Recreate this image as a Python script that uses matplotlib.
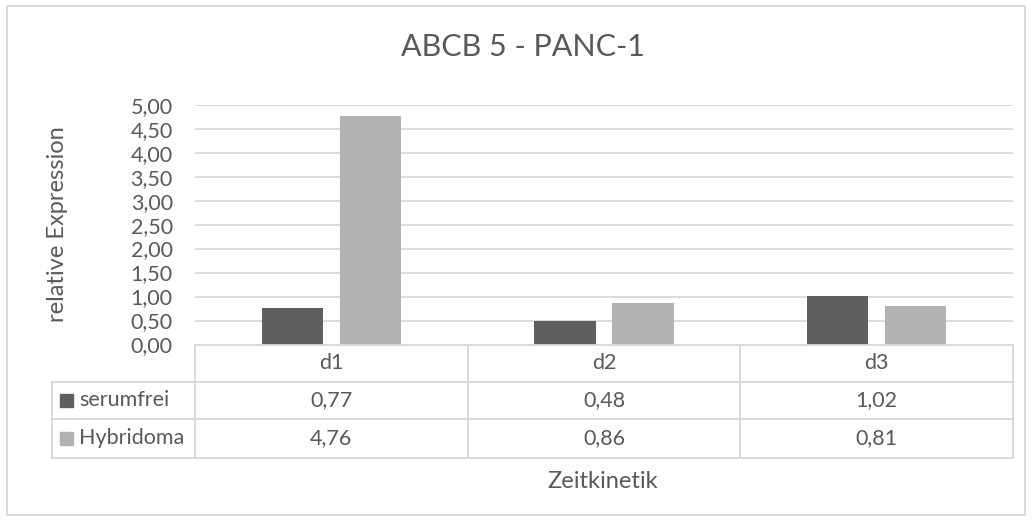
import matplotlib.pyplot as plt
from matplotlib.patches import Rectangle
from matplotlib.lines import Line2D
import numpy as np

categories = ["d1", "d2", "d3"]
series_names = ["serumfrei", "Hybridoma"]
serumfrei = [0.77, 0.48, 1.02]
hybridoma = [4.76, 0.86, 0.81]
yticks = [0, 0.5, 1, 1.5, 2, 2.5, 3, 3.5, 4, 4.5, 5]
colors = ["#5f5f5f", "#b2b2b2"]

W, H = 1032, 521
txt = "#595959"
grid = "#d9d9d9"
fs = 15.5
plt.rcParams["font.family"] = ["Lato", "DejaVu Sans"]

fig = plt.figure(figsize=(W / 100, H / 100), dpi=100)

def fx(x):
    return x / W

def fy(y):
    return 1 - y / H

# plot area in pixels
x0, x1 = 195, 1013
ytop, ybot = 104.7, 344.5
ax = fig.add_axes([fx(x0), fy(ybot), fx(x1) - fx(x0), fy(ytop) - fy(ybot)])

x = np.arange(len(categories))
w = 0.224
off = 0.143
ax.bar(x - off, serumfrei, w, color=colors[0], zorder=3)
ax.bar(x + off, hybridoma, w, color=colors[1], zorder=3)
ax.set_xlim(-0.5, len(categories) - 0.5)
ax.set_ylim(0, 5)
ax.set_yticks(yticks)
ax.set_yticklabels([f"{v:.2f}".replace(".", ",") for v in yticks], color=txt, fontsize=fs)
ax.set_xticks([])
ax.tick_params(axis="y", length=0, pad=16)
ax.grid(axis="y", color=grid, linewidth=1.3, zorder=0)
for s in ax.spines.values():
    s.set_visible(False)

# outer chart border
fig.patches.append(Rectangle((fx(7), fy(515)), fx(1025) - fx(7), fy(6) - fy(515),
                             transform=fig.transFigure, fill=False, edgecolor=grid, linewidth=1.3))

# title and axis labels
fig.text(fx(523), fy(47), "ABCB 5 - PANC-1", ha="center", va="center", fontsize=22, color=txt)
fig.text(fx(57), fy(224), "relative Expression", ha="center", va="center", rotation=90, fontsize=17, color=txt)
fig.text(fx(603), fy(481), "Zeitkinetik", ha="center", va="center", fontsize=17, color=txt)

# data table
rows = [ybot, 381.5, 419.3, 457.5]
colw = (x1 - x0) / len(categories)
cols = [x0 + i * colw for i in range(len(categories) + 1)]
tl = 52

def line(xa, ya, xb, yb):
    fig.lines.append(Line2D([fx(xa), fx(xb)], [fy(ya), fy(yb)], transform=fig.transFigure,
                            color=grid, linewidth=1.3))

line(x0, rows[0], x1, rows[0])
for r in rows[1:]:
    line(tl, r, x1, r)
for c in cols:
    line(c, rows[0], c, rows[-1])
line(tl, rows[1], tl, rows[-1])

for i, c in enumerate(categories):
    cx = cols[i] + colw / 2
    fig.text(fx(cx), fy((rows[0] + rows[1]) / 2), c, ha="center", va="center", fontsize=fs, color=txt)
    for j, vals in enumerate([serumfrei, hybridoma]):
        fig.text(fx(cx), fy((rows[j + 1] + rows[j + 2]) / 2), f"{vals[i]:.2f}".replace(".", ","),
                 ha="center", va="center", fontsize=fs, color=txt)

for j, name in enumerate(series_names):
    yc = (rows[j + 1] + rows[j + 2]) / 2
    fig.patches.append(Rectangle((fx(60), fy(yc + 6.5)), fx(13), 13 / H, transform=fig.transFigure,
                                 color=colors[j]))
    fig.text(fx(79), fy(yc), name, ha="left", va="center", fontsize=fs, color=txt)

fig.savefig("out.png", dpi=100)
